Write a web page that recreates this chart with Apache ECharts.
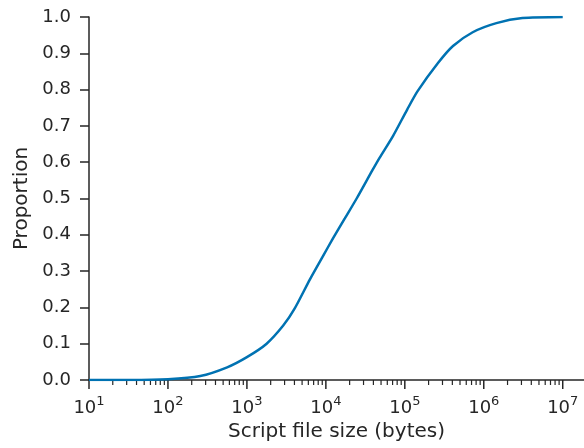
<!DOCTYPE html>
<html>
<head>
<meta charset="utf-8">
<script src="https://cdn.jsdelivr.net/npm/echarts@6/dist/echarts.min.js"></script>
<style>
  html, body { margin: 0; padding: 0; background: #fff; }
  #chart { width: 584px; height: 448px; }
</style>
</head>
<body>
<div id="chart"></div>
<script>
// script size (bytes) and cumulative proportion
var sizes = [10, 32, 100, 257, 562, 1000, 1778, 2884, 3981, 6310, 9120, 12303, 17378,
             24547, 38905, 47863, 70795, 107152, 144544, 263027, 407380,
             724436, 1445440, 3090295, 10000000];
var props = [0.0, 0.0, 0.002, 0.011, 0.035, 0.063, 0.1, 0.15, 0.195, 0.278, 0.34,
             0.39, 0.445, 0.5, 0.578, 0.612, 0.672, 0.745, 0.795, 0.873,
             0.92, 0.958, 0.983, 0.997, 1.0];
var yTicks = ['0.0', '0.1', '0.2', '0.3', '0.4', '0.5', '0.6', '0.7', '0.8', '0.9', '1.0'];
var xMajor = [10, 100, 1000, 10000, 100000, 1000000, 10000000];

// minor ticks of the log axis: 2..9 x 10^d
var minorVals = [];
for (var d = 1; d < 7; d++) {
    for (var k = 2; k <= 9; k++) {
        minorVals.push(k * Math.pow(10, d));
    }
}
var tickVals = xMajor.map(function (v) { return [v, 9]; })
    .concat(minorVals.map(function (v) { return [v, 5]; }));

var axisColor = '#262626';
var font = 'DejaVu Sans';

var chart = echarts.init(document.getElementById('chart'));
var option = {
    animation: false,
    grid: { left: 89, right: 0, top: 17, bottom: 68 },
    xAxis: {
        type: 'log',
        logBase: 10,
        min: 10,
        max: 18600000,
        name: 'Script file size (bytes)',
        nameLocation: 'middle',
        nameGap: 42,
        nameTextStyle: { fontFamily: font, fontSize: 20, color: axisColor },
        axisLine: { lineStyle: { color: axisColor, width: 1.5 } },
        axisTick: { show: false },
        splitLine: { show: false },
        axisLabel: {
            margin: 15,
            showMaxLabel: false,
            formatter: function (v) {
                var e = Math.log10(v);
                if (Math.abs(e - Math.round(e)) > 1e-6) return '';
                return '{b|10}{s|' + Math.round(e) + '}';
            },
            rich: {
                b: { fontFamily: font, fontSize: 18, color: axisColor, verticalAlign: 'bottom', lineHeight: 22 },
                s: { fontFamily: font, fontSize: 13, color: axisColor, verticalAlign: 'top', lineHeight: 22, padding: [0, 0, 9, 0] }
            }
        }
    },
    yAxis: {
        type: 'value',
        min: 0,
        max: 1,
        interval: 0.1,
        name: 'Proportion',
        nameLocation: 'middle',
        nameGap: 56,
        nameTextStyle: { fontFamily: font, fontSize: 20, color: axisColor },
        axisLine: { show: true, lineStyle: { color: axisColor, width: 1.5 } },
        axisTick: { show: true, length: 9, lineStyle: { color: axisColor, width: 1.5 } },
        splitLine: { show: false },
        axisLabel: {
            margin: 18,
            fontFamily: font,
            fontSize: 18,
            color: axisColor,
            formatter: function (v) { return yTicks[Math.round(v * 10)]; }
        }
    },
    series: [
        {
            type: 'line',
            data: sizes.map(function (s, i) { return [s, props[i]]; }),
            smooth: 0.25,
            symbol: 'none',
            lineStyle: { color: '#0072B2', width: 2.5 },
            z: 3
        },
        {
            // x-axis ticks (major decades and 2..9 minors)
            type: 'custom',
            clip: false,
            silent: true,
            data: tickVals,
            renderItem: function (params, api) {
                var p = api.coord([api.value(0), 0]);
                var len = api.value(1);
                return {
                    type: 'line',
                    shape: { x1: p[0], y1: p[1], x2: p[0], y2: p[1] + len },
                    style: { stroke: axisColor, lineWidth: len > 6 ? 1.5 : 1.2 }
                };
            },
            z: 1
        }
    ]
};
chart.setOption(option);
</script>
</body>
</html>
